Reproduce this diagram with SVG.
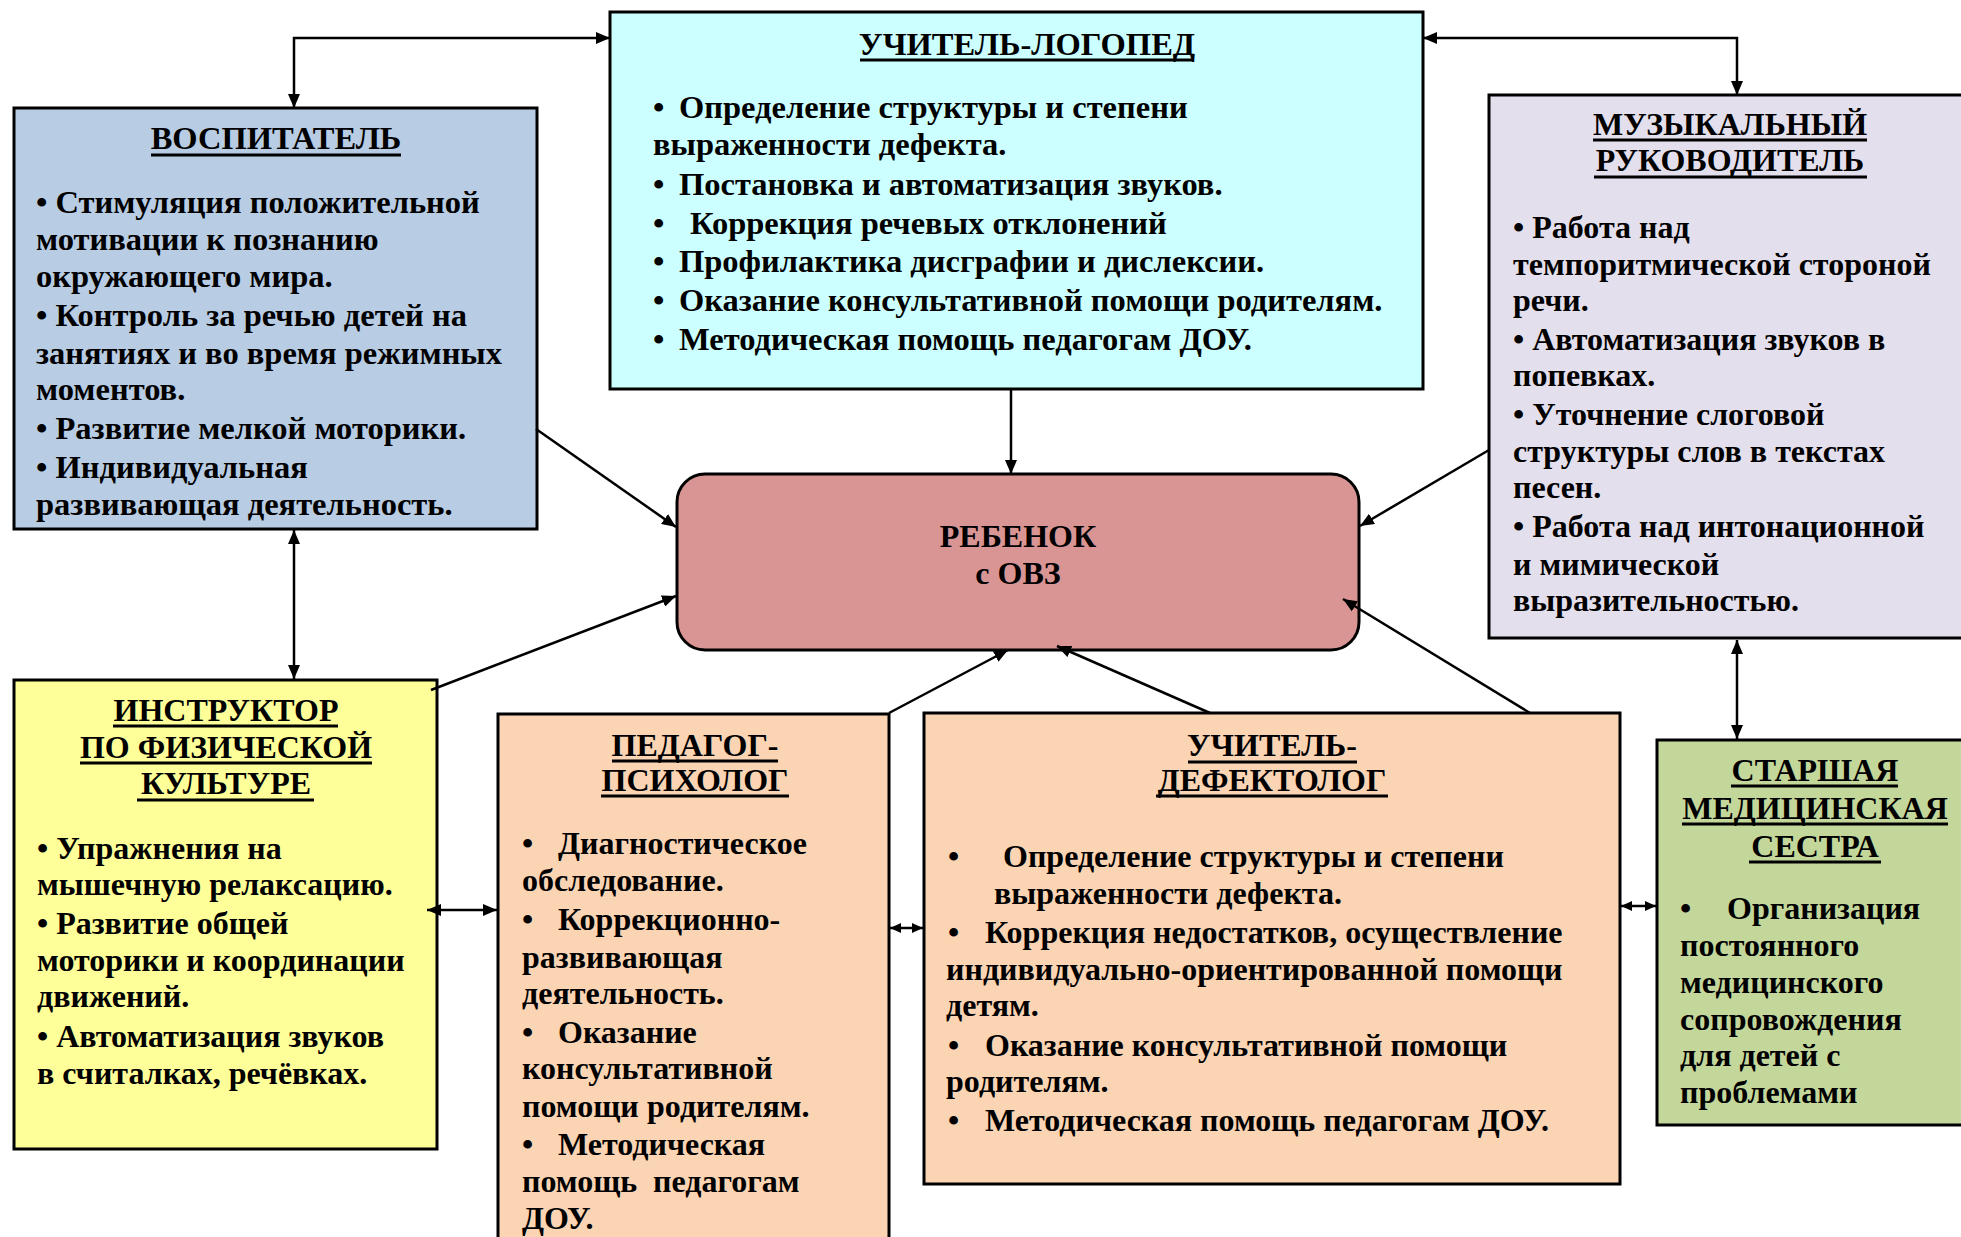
<svg xmlns="http://www.w3.org/2000/svg" width="1961" height="1237" viewBox="0 0 1961 1237">
<defs>
<style>
.box{stroke:#000;stroke-width:3}
.t{font-family:"Liberation Serif","Times New Roman",serif;font-weight:bold;font-size:32px;fill:#000}
.b{font-size:32.5px}
.m{text-anchor:middle}
.u{stroke:#000;stroke-width:3}
.c{fill:none;stroke:#000;stroke-width:2.5}
</style>
<marker id="ah" viewBox="0 0 14 12" refX="14" refY="6" markerWidth="14" markerHeight="12" markerUnits="userSpaceOnUse" orient="auto-start-reverse"><path d="M0,0 L14,6 L0,12 z" fill="#000"/></marker>
<marker id="as" viewBox="0 0 11 10" refX="11" refY="5" markerWidth="11" markerHeight="10" markerUnits="userSpaceOnUse" orient="auto-start-reverse"><path d="M0,0 L11,5 L0,10 z" fill="#000"/></marker>
</defs>
<rect width="1961" height="1237" fill="#fff"/>

<g id="vospitatel">
<rect class="box" x="14" y="108" width="523" height="421" fill="#b8cce4"/>
<text class="t b m" x="276" y="149">ВОСПИТАТЕЛЬ</text>
<line class="u" x1="151" y1="155" x2="401" y2="155"/>
<text class="t b" x="36" y="213">• Стимуляция положительной</text>
<text class="t b" x="36" y="250">мотивации к познанию</text>
<text class="t b" x="36" y="287">окружающего мира.</text>
<text class="t b" x="36" y="326">• Контроль за речью детей на</text>
<text class="t b" x="36" y="364">занятиях и во время режимных</text>
<text class="t b" x="36" y="400">моментов.</text>
<text class="t b" x="36" y="439">• Развитие мелкой моторики.</text>
<text class="t b" x="36" y="478">• Индивидуальная</text>
<text class="t b" x="36" y="515">развивающая деятельность.</text>
</g>

<g id="logoped">
<rect class="box" x="610" y="12" width="813" height="377" fill="#ccffff"/>
<text class="t b m" x="1027" y="55">УЧИТЕЛЬ-ЛОГОПЕД</text>
<line class="u" x1="860" y1="60" x2="1193" y2="60"/>
<text class="t b" y="118"><tspan x="653">•</tspan><tspan x="679">Определение структуры и степени</tspan></text>
<text class="t b" x="653" y="155">выраженности дефекта.</text>
<text class="t b" y="195"><tspan x="653">•</tspan><tspan x="679">Постановка и автоматизация звуков.</tspan></text>
<text class="t b" y="234"><tspan x="653">•</tspan><tspan x="690">Коррекция речевых отклонений</tspan></text>
<text class="t b" y="272"><tspan x="653">•</tspan><tspan x="679">Профилактика дисграфии и дислексии.</tspan></text>
<text class="t b" y="311"><tspan x="653">•</tspan><tspan x="679">Оказание консультативной помощи родителям.</tspan></text>
<text class="t b" y="350"><tspan x="653">•</tspan><tspan x="679">Методическая помощь педагогам ДОУ.</tspan></text>
</g>

<g id="muzykalny">
<rect class="box" x="1489" y="95" width="480" height="543" fill="#e4dfec"/>
<text class="t m" x="1730" y="135">МУЗЫКАЛЬНЫЙ</text>
<line class="u" x1="1593" y1="140" x2="1867" y2="140"/>
<text class="t m" x="1730" y="171">РУКОВОДИТЕЛЬ</text>
<line class="u" x1="1594" y1="177" x2="1867" y2="177"/>
<text class="t" x="1513" y="238">• Работа над</text>
<text class="t" x="1513" y="275">темпоритмической стороной</text>
<text class="t" x="1513" y="311">речи.</text>
<text class="t" x="1513" y="350">• Автоматизация звуков в</text>
<text class="t" x="1513" y="386">попевках.</text>
<text class="t" x="1513" y="425">• Уточнение слоговой</text>
<text class="t" x="1513" y="462">структуры слов в текстах</text>
<text class="t" x="1513" y="498">песен.</text>
<text class="t" x="1513" y="537">• Работа над интонационной</text>
<text class="t" x="1513" y="575">и мимической</text>
<text class="t" x="1513" y="611">выразительностью.</text>
</g>

<g id="instruktor">
<rect class="box" x="14" y="680" width="423" height="469" fill="#ffff99"/>
<text class="t m" x="226" y="721">ИНСТРУКТОР</text>
<line class="u" x1="113" y1="726" x2="338" y2="726"/>
<text class="t m" x="226" y="758">ПО ФИЗИЧЕСКОЙ</text>
<line class="u" x1="80" y1="763" x2="372" y2="763"/>
<text class="t m" x="226" y="794">КУЛЬТУРЕ</text>
<line class="u" x1="137" y1="800" x2="314" y2="800"/>
<text class="t" x="37" y="859">• Упражнения на</text>
<text class="t" x="37" y="895">мышечную релаксацию.</text>
<text class="t" x="37" y="934">• Развитие общей</text>
<text class="t" x="37" y="971">моторики и координации</text>
<text class="t" x="37" y="1007">движений.</text>
<text class="t" x="37" y="1047">• Автоматизация звуков</text>
<text class="t" x="37" y="1084">в считалках, речёвках.</text>
</g>

<g id="psiholog">
<rect class="box" x="498" y="714" width="391" height="530" fill="#fbd4b4"/>
<text class="t m" x="695" y="756">ПЕДАГОГ-</text>
<line class="u" x1="612" y1="761" x2="778" y2="761"/>
<text class="t m" x="695" y="791">ПСИХОЛОГ</text>
<line class="u" x1="601" y1="796" x2="789" y2="796"/>
<text class="t" y="854"><tspan x="522">•</tspan><tspan x="558">Диагностическое</tspan></text>
<text class="t" x="522" y="891">обследование.</text>
<text class="t" y="930"><tspan x="522">•</tspan><tspan x="558">Коррекционно-</tspan></text>
<text class="t" x="522" y="968">развивающая</text>
<text class="t" x="522" y="1004">деятельность.</text>
<text class="t" y="1043"><tspan x="522">•</tspan><tspan x="558">Оказание</tspan></text>
<text class="t" x="522" y="1079">консультативной</text>
<text class="t" y="1117"><tspan x="522">помощи</tspan><tspan x="647">родителям.</tspan></text>
<text class="t" y="1155"><tspan x="522">•</tspan><tspan x="558">Методическая</tspan></text>
<text class="t" y="1192"><tspan x="522">помощь</tspan><tspan x="653">педагогам</tspan></text>
<text class="t" x="522" y="1229">ДОУ.</text>
</g>

<g id="defektolog">
<rect class="box" x="924" y="713" width="696" height="471" fill="#fbd4b4"/>
<text class="t m" x="1272" y="756">УЧИТЕЛЬ-</text>
<line class="u" x1="1188" y1="762" x2="1357" y2="762"/>
<text class="t m" x="1272" y="791">ДЕФЕКТОЛОГ</text>
<line class="u" x1="1156" y1="796" x2="1388" y2="796"/>
<text class="t" y="867"><tspan x="948">•</tspan><tspan x="1003">Определение структуры и степени</tspan></text>
<text class="t" x="994" y="904">выраженности дефекта.</text>
<text class="t" y="943"><tspan x="948">•</tspan><tspan x="985">Коррекция недостатков, осуществление</tspan></text>
<text class="t" x="946" y="980">индивидуально-ориентированной помощи</text>
<text class="t" x="946" y="1016">детям.</text>
<text class="t" y="1056"><tspan x="948">•</tspan><tspan x="985">Оказание консультативной помощи</tspan></text>
<text class="t" x="946" y="1092">родителям.</text>
<text class="t" y="1131"><tspan x="948">•</tspan><tspan x="985">Методическая помощь педагогам ДОУ.</tspan></text>
</g>

<g id="medsestra">
<rect class="box" x="1657" y="740" width="310" height="385" fill="#c4d79b"/>
<text class="t m" x="1815" y="781">СТАРШАЯ</text>
<line class="u" x1="1731" y1="786" x2="1898" y2="786"/>
<text class="t m" x="1815" y="819">МЕДИЦИНСКАЯ</text>
<line class="u" x1="1682" y1="824" x2="1948" y2="824"/>
<text class="t m" x="1815" y="857">СЕСТРА</text>
<line class="u" x1="1749" y1="862" x2="1881" y2="862"/>
<text class="t" y="919"><tspan x="1680">•</tspan><tspan x="1727">Организация</tspan></text>
<text class="t" x="1680" y="956">постоянного</text>
<text class="t" x="1680" y="993">медицинского</text>
<text class="t" x="1680" y="1030">сопровождения</text>
<text class="t" x="1680" y="1066">для детей с</text>
<text class="t" x="1680" y="1103">проблемами</text>
</g>

<g id="rebenok">
<rect class="box" x="677" y="474" width="682" height="176" rx="28" ry="28" fill="#d99594"/>
<text class="t m" x="1018" y="547">РЕБЕНОК</text>
<text class="t m" x="1018" y="584">с ОВЗ</text>
</g>

<g id="connectors">
<path class="c" d="M294,108 V38 H610" marker-start="url(#ah)" marker-end="url(#ah)"/>
<path class="c" d="M1423,38 H1737 V95" marker-start="url(#ah)" marker-end="url(#ah)"/>
<path class="c" d="M1011,389 V474" marker-end="url(#ah)"/>
<path class="c" d="M536,429 L676,527" marker-end="url(#ah)"/>
<path class="c" d="M1489,450 L1360,526" marker-end="url(#ah)"/>
<path class="c" d="M431,690 L676,596" marker-end="url(#ah)"/>
<path class="c" d="M889,713 L1008,650" marker-end="url(#ah)"/>
<path class="c" d="M1210,713 L1057,646" marker-end="url(#ah)"/>
<path class="c" d="M1530,713 L1343,599" marker-end="url(#ah)"/>
<path class="c" d="M294,530 V679" marker-start="url(#ah)" marker-end="url(#ah)"/>
<path class="c" d="M427,910 H497" marker-start="url(#ah)" marker-end="url(#ah)"/>
<path class="c" d="M890,928 H923" marker-start="url(#as)" marker-end="url(#as)"/>
<path class="c" d="M1621,906 H1656" marker-start="url(#as)" marker-end="url(#as)"/>
<path class="c" d="M1737,640 V739" marker-start="url(#ah)" marker-end="url(#ah)"/>
</g>
</svg>
